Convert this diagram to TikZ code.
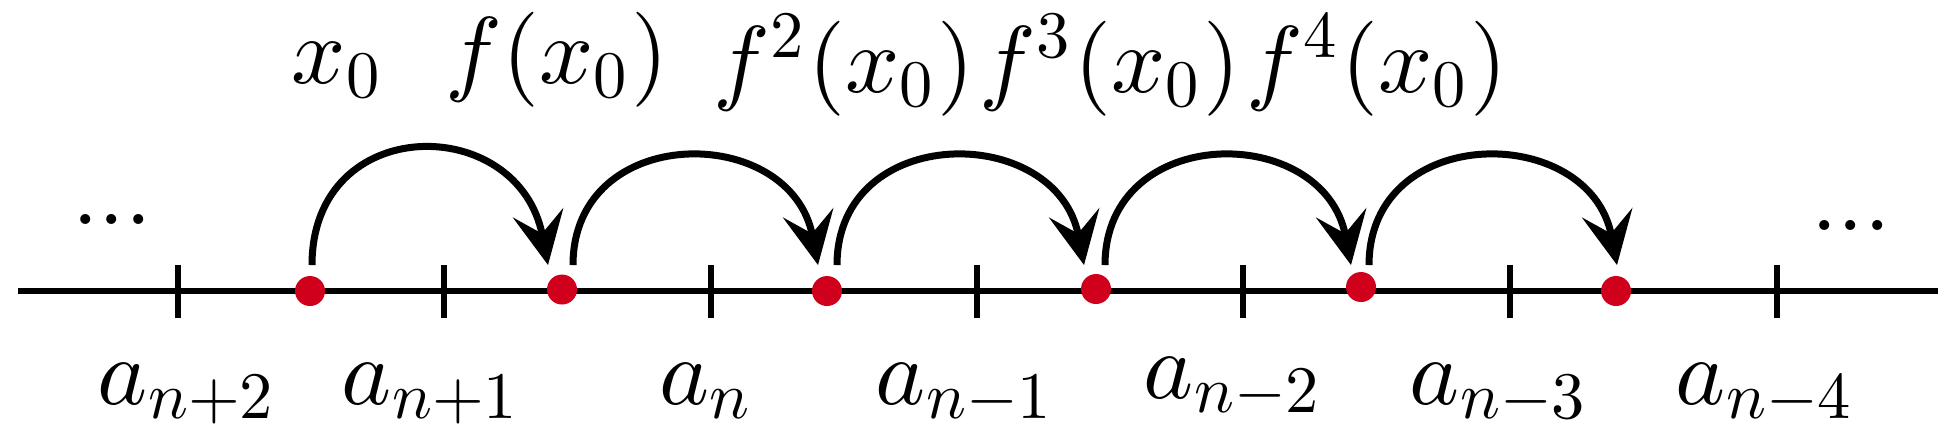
\documentclass[tikz,border=0pt]{standalone}
\usetikzlibrary{arrows.meta}
\DeclareFontFamily{OML}{cmmx}{\skewchar\font=127}
\DeclareFontShape{OML}{cmmx}{m}{it}{<->cmmi10}{}
\DeclareSymbolFont{letters}{OML}{cmmx}{m}{it}
\DeclareFontFamily{OT1}{cmrx}{\hyphenchar\font=-1}
\DeclareFontShape{OT1}{cmrx}{m}{n}{<->cmr10}{}
\DeclareSymbolFont{operators}{OT1}{cmrx}{m}{n}
\DeclareFontFamily{OMS}{cmsx}{\skewchar\font=48}
\DeclareFontShape{OMS}{cmsx}{m}{n}{<->cmsy10}{}
\DeclareSymbolFont{symbols}{OMS}{cmsx}{m}{n}
\definecolor{dotred}{RGB}{208,0,28}
\begin{document}
\begin{tikzpicture}[x=0.1pt,y=0.1pt,
  axis/.style={line width=0.65pt},
  tickmark/.style={line width=0.6pt},
  dot/.style={circle,fill=dotred,inner sep=0pt,minimum size=3pt},
  jump/.style={line width=0.7pt,-{Stealth[length=5.3pt,width=5.1pt,inset=2.1pt]}},
  lab/.style={inner sep=0pt,anchor=base,font=\fontsize{9.5}{11}\selectfont}]
\useasboundingbox (0,0) rectangle (1956,442);
% axis
\coordinate (L) at (18,151);
\coordinate (R) at (1938,151);
\draw[axis] (L) -- (R);
% ticks
\foreach \x/\n in {178/1,444/2,711/3,977/4,1243/5,1510/6,1777/7}{
  \coordinate (tt\n) at (\x,177.5);
  \coordinate (tb\n) at (\x,124.5);
  \draw[tickmark] (tb\n) -- (tt\n);
}
% bottom labels
\node[lab] (l1) at (188,38) {$a_{n+2}$};
\node[lab] (l2) at (432,38) {$a_{n+1}$};
\node[lab] (l3) at (707,38) {$a_{n}$};
\node[lab] (l4) at (966,38) {$a_{n-1}$};
\node[lab] (l5) at (1234,44) {$a_{n-2}$};
\node[lab] (l6) at (1500,38) {$a_{n-3}$};
\node[lab] (l7) at (1766,38) {$a_{n-4}$};
% ellipses
\node[lab] (el) at (112,218) {$...$};
\node[lab] (er) at (1851,212) {$...$};
% top labels
\node[lab] (u0) at (338,359) {$x_0$};
\node[lab] (u1) at (557,359) {$f(x_0)$};
\node[lab] (u2) at (844,350) {$f^2(x_0)$};
\node[lab] (u3) at (1110,350) {$f^3(x_0)$};
\node[lab] (u4) at (1377,350) {$f^4(x_0)$};
% dots
\node[dot] (d0) at (310,151) {};
\node[dot] (d1) at (562,152.5) {};
\node[dot] (d2) at (827,151) {};
\node[dot] (d3) at (1096,153) {};
\node[dot] (d4) at (1361,155) {};
\node[dot] (d5) at (1616,151) {};
% jumps
\draw[jump] ([shift={(2,26)}]d0.center) .. controls +(0,153) and +(-29,153) .. ([shift={(-14,24.5)}]d1.center);
\draw[jump] ([shift={(11,24.5)}]d1.center) .. controls +(0,143) and +(-27,143) .. ([shift={(-9,26)}]d2.center);
\draw[jump] ([shift={(10,26)}]d2.center) .. controls +(0,143) and +(-27,143) .. ([shift={(-12,24)}]d3.center);
\draw[jump] ([shift={(9,24)}]d3.center) .. controls +(0,143) and +(-27,143) .. ([shift={(-10,22)}]d4.center);
\draw[jump] ([shift={(8,22)}]d4.center) .. controls +(0,143) and +(-27,143) .. ([shift={(1,26)}]d5.center);
\end{tikzpicture}
\end{document}
